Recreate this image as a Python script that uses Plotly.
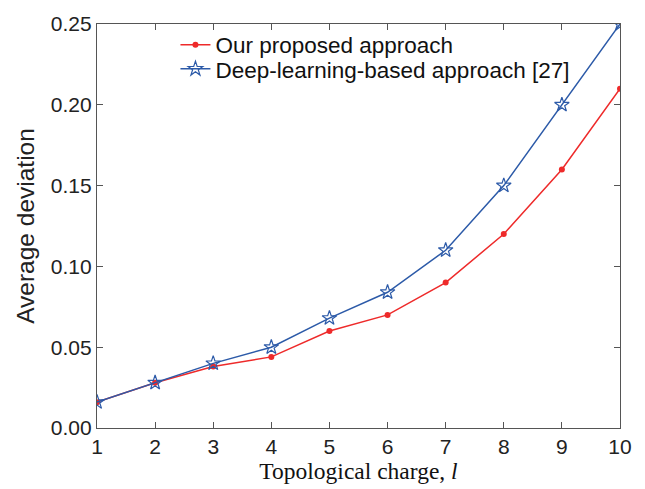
import plotly.graph_objects as go

charge = [1, 2, 3, 4, 5, 6, 7, 8, 9, 10]
ours = [0.016, 0.028, 0.038, 0.044, 0.060, 0.070, 0.090, 0.120, 0.160, 0.210]
deep = [0.016, 0.028, 0.040, 0.050, 0.068, 0.084, 0.110, 0.150, 0.200, 0.250]
ytick_vals = [0, 0.05, 0.10, 0.15, 0.20, 0.25]
ytick_text = ["0.00", "0.05", "0.10", "0.15", "0.20", "0.25"]

fig = go.Figure()
fig.add_trace(go.Scatter(
    x=charge, y=ours, mode="lines+markers", name="Our proposed approach",
    line=dict(color="#ee2a2a", width=1.5),
    marker=dict(symbol="circle", size=6, color="#ee2a2a"),
    legend="legend",
))
fig.add_trace(go.Scatter(
    x=charge, y=deep, mode="lines+markers", name="Deep-learning-based approach [27]",
    line=dict(color="#2c5aa8", width=1.5),
    marker=dict(symbol="star-open", size=11, color="#2c5aa8", line=dict(width=1.2)),
    legend="legend2",
))

axis_common = dict(
    showline=True, linecolor="#555", linewidth=1.2, mirror="ticks",
    ticks="inside", ticklen=6, tickcolor="#555", showgrid=False, zeroline=False,
    tickfont=dict(family="Liberation Sans, Arial", size=21, color="#222"),
)
fig.update_xaxes(
    range=[1, 10], tickvals=charge, **axis_common,
    title=dict(text="Topological charge, <i>l</i>",
               font=dict(family="Liberation Serif, Times New Roman", size=23.5, color="#111"),
               standoff=2),
)
fig.update_yaxes(
    range=[0, 0.25], tickvals=ytick_vals, ticktext=ytick_text, **axis_common,
    title=dict(text="Average deviation",
               font=dict(family="Liberation Sans, Arial", size=24.5, color="#222"),
               standoff=9),
)
leg_common = dict(xanchor="left", yanchor="middle", bgcolor="rgba(0,0,0,0)", borderwidth=0,
                  font=dict(family="Liberation Sans, Arial", size=22.5, color="#111"),
                  itemwidth=30)
fig.update_layout(
    width=645, height=489,
    margin=dict(l=97, r=25, t=18, b=59),
    paper_bgcolor="white", plot_bgcolor="white",
    legend=dict(x=0.15, y=0.948, **leg_common),
    legend2=dict(x=0.15, y=0.888, **leg_common),
    showlegend=True,
)
fig.write_html("out.html")
